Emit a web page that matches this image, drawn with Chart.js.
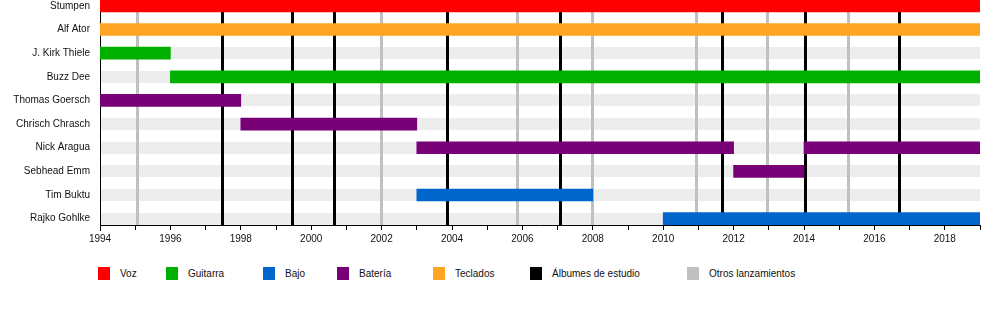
<!DOCTYPE html>
<html>
<head>
<meta charset="utf-8">
<script src="https://cdn.jsdelivr.net/npm/chart.js@4"></script>
<style>
  body { margin: 0; background: #fff; font-family: "Liberation Sans", Arial, sans-serif; }
  #wrap { position: relative; width: 1000px; height: 325px; }
  #chartbox { position: absolute; left: 0; top: 0; width: 1000px; height: 250px; }
  #legend { position: absolute; left: 0; top: 267px; width: 1000px; height: 14px; }
  .item { position: absolute; top: 0; height: 13px; display: flex; align-items: center; font-size: 10px; color: #111; white-space: nowrap; }
  .box { width: 12px; height: 13px; margin-right: 10px; }
</style>
</head>
<body>
<div id="wrap">
  <div id="chartbox"><canvas id="chart"></canvas></div>
  <div id="legend"></div>
</div>
<script>
const members = ['Stumpen', 'Alf Ator', 'J. Kirk Thiele', 'Buzz Dee', 'Thomas Goersch',
    'Chrisch Chrasch', 'Nick Aragua', 'Sebhead Emm', 'Tim Buktu', 'Rajko Gohlke'];

// [member, from, to]
const voz = [['Stumpen', 1994, 2019]];
const guitarra = [['J. Kirk Thiele', 1994, 1996], ['Buzz Dee', 1996, 2019]];
const bajo = [['Tim Buktu', 2003, 2008], ['Rajko Gohlke', 2010, 2019]];
const bateria = [['Thomas Goersch', 1994, 1998], ['Chrisch Chrasch', 1998, 2003],
    ['Nick Aragua', 2003, 2012], ['Sebhead Emm', 2012, 2014], ['Nick Aragua', 2014, 2019]];
const teclados = [['Alf Ator', 1994, 2019]];

const studioAlbums = [1997.49, 1999.48, 2000.65, 2003.86, 2007.08, 2011.69, 2014.03, 2016.71];
const otherReleases = [1995.07, 2001.99, 2005.86, 2007.98, 2010.94, 2012.95, 2015.26];

const roles = [
    {label: 'Voz', spans: voz, color: '#ff0000'},
    {label: 'Guitarra', spans: guitarra, color: '#00b000'},
    {label: 'Bajo', spans: bajo, color: '#0066cc'},
    {label: 'Batería', spans: bateria, color: '#770077'},
    {label: 'Teclados', spans: teclados, color: '#ffa526'}
];
const legendItems = [...roles.map(r => [r.label, r.color]),
    ['Álbumes de estudio', '#000000'], ['Otros lanzamientos', '#c0c0c0']];
const legendCols = [98, 166, 263, 337, 433, 530, 687];

const fontfam = '"Liberation Sans", Arial, sans-serif';

const datasets = roles.map(r => ({
    label: r.label,
    data: r.spans.map(s => ({y: members.indexOf(s[0]), x: [s[1], s[2]]})),
    backgroundColor: r.color,
    borderWidth: 0,
    barThickness: 12,
    grouped: false
}));

const markerAxis = (years, color) => ({
    type: 'linear',
    position: 'top',
    min: 1994,
    max: 2019,
    afterBuildTicks: axis => { axis.ticks = years.map(v => ({value: v})); },
    ticks: {display: false},
    border: {display: false},
    grid: {color: color, lineWidth: 3, drawTicks: false, z: -1}
});

new Chart(document.getElementById('chart'), {
    type: 'bar',
    data: {datasets: datasets},
    options: {
        indexAxis: 'y',
        responsive: true,
        maintainAspectRatio: false,
        animation: false,
        layout: {padding: {left: 0, right: 20, top: 0, bottom: 2}},
        plugins: {legend: {display: false}, tooltip: {enabled: false}},
        scales: {
            x: {
                type: 'linear',
                position: 'bottom',
                min: 1994,
                max: 2019,
                offset: false,
                ticks: {
                    stepSize: 1,
                    autoSkip: false,
                    maxRotation: 0,
                    padding: 3,
                    color: '#111',
                    font: {family: fontfam, size: 10},
                    callback: v => (v % 2 === 0 ? String(v) : '')
                },
                grid: {drawOnChartArea: false, drawTicks: true, tickLength: 5, tickColor: '#000', offset: false},
                border: {display: true, color: '#000', width: 1}
            },
            studio: markerAxis(studioAlbums, '#000000'),
            other: markerAxis(otherReleases, '#c0c0c0'),
            y: {
                type: 'linear',
                reverse: true,
                min: -0.25,
                max: 9.27,
                offset: false,
                afterBuildTicks: axis => { axis.ticks = members.map((m, i) => ({value: i})); },
                afterFit: axis => { axis.width = 100; axis.paddingTop = 0; axis.paddingBottom = 0; },
                ticks: {
                    padding: 10,
                    color: '#111',
                    font: {family: fontfam, size: 10},
                    callback: v => members[v] ?? ''
                },
                grid: {color: '#ededed', lineWidth: 12, drawTicks: false, offset: false, z: -2},
                border: {display: true, color: '#000', width: 1}
            }
        }
    }
});

const legend = document.getElementById('legend');
legendItems.forEach(([text, color], i) => {
    const item = document.createElement('div');
    item.className = 'item';
    item.style.left = legendCols[i] + 'px';
    const box = document.createElement('span');
    box.className = 'box';
    box.style.background = color;
    item.appendChild(box);
    item.appendChild(document.createTextNode(text));
    legend.appendChild(item);
});
</script>
</body>
</html>
